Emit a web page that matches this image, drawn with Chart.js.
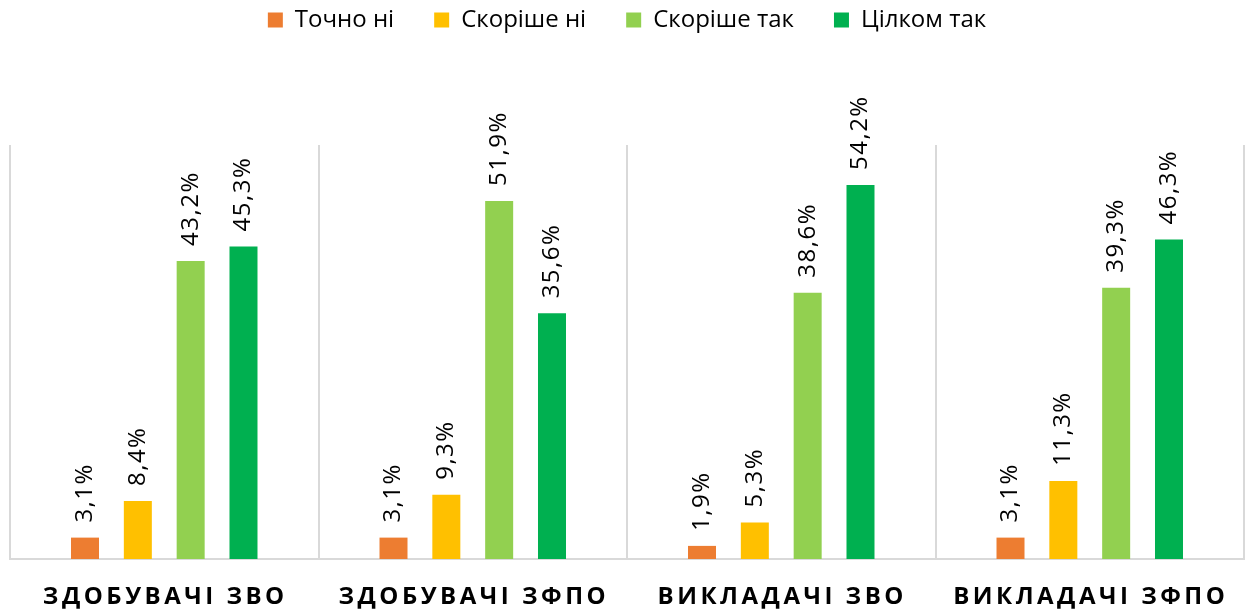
<!DOCTYPE html>
<html>
<head>
<meta charset="utf-8">
<script src="https://cdn.jsdelivr.net/npm/chart.js@4/dist/chart.umd.min.js"></script>
<style>
  html, body { margin: 0; padding: 0; background: #fff; }
  #wrap { width: 1246px; height: 611px; }
</style>
</head>
<body>
<div id="wrap"><canvas id="myChart" width="1246" height="611"></canvas></div>
<script>
const categories = ['ЗДОБУВАЧІ ЗВО', 'ЗДОБУВАЧІ ЗФПО', 'ВИКЛАДАЧІ ЗВО', 'ВИКЛАДАЧІ ЗФПО'];
const seriesNames = ['Точно ні', 'Скоріше ні', 'Скоріше так', 'Цілком так'];
const tochnoNi = [3.1, 3.1, 1.9, 3.1];
const skorisheNi = [8.4, 9.3, 5.3, 11.3];
const skorisheTak = [43.2, 51.9, 38.6, 39.3];
const tsilkomTak = [45.3, 35.6, 54.2, 46.3];
const colors = ['#ED7D31', '#FFC000', '#92D050', '#00B050'];

window.onload = function () {

const FONT = '"Open Sans", "Noto Sans", sans-serif';

// push plot area down below the legend
const legendGap = {
    id: 'legendGap',
    beforeInit(chart) {
        const fit = chart.legend.fit;
        chart.legend.fit = function () {
            fit.bind(chart.legend)();
            this.height += 103;
        };
    }
};

// value labels above bars, rotated
const barLabels = {
    id: 'barLabels',
    afterDatasetsDraw(chart) {
        const ctx = chart.ctx;
        ctx.save();
        ctx.font = '24px ' + FONT;
        ctx.letterSpacing = '1.5px';
        ctx.fillStyle = '#000';
        ctx.textAlign = 'left';
        ctx.textBaseline = 'middle';
        chart.data.datasets.forEach((ds, i) => {
            chart.getDatasetMeta(i).data.forEach((bar, j) => {
                const txt = ds.data[j].toFixed(1).replace('.', ',') + '%';
                ctx.save();
                ctx.translate(bar.x, bar.y - 15);
                ctx.rotate(-Math.PI / 2);
                ctx.fillText(txt, 0, 0);
                ctx.restore();
            });
        });
        ctx.restore();
    }
};

// category labels, bold and spaced out
const catLabels = {
    id: 'catLabels',
    afterDraw(chart) {
        const ctx = chart.ctx;
        const xs = chart.scales.x;
        ctx.save();
        ctx.font = 'bold 24px ' + FONT;
        ctx.letterSpacing = '3.5px';
        ctx.fillStyle = '#000';
        ctx.textAlign = 'center';
        ctx.textBaseline = 'middle';
        categories.forEach((c, i) => {
            ctx.fillText(c, xs.getPixelForValue(i) + 1, 597);
        });
        ctx.restore();
    }
};

new Chart(document.getElementById('myChart').getContext('2d'), {
    type: 'bar',
    data: {
        labels: categories,
        datasets: [
            { label: seriesNames[0], data: tochnoNi, backgroundColor: colors[0] },
            { label: seriesNames[1], data: skorisheNi, backgroundColor: colors[1] },
            { label: seriesNames[2], data: skorisheTak, backgroundColor: colors[2] },
            { label: seriesNames[3], data: tsilkomTak, backgroundColor: colors[3] }
        ]
    },
    options: {
        responsive: false,
        animation: false,
        categoryPercentage: 0.685,
        barPercentage: 0.53,
        layout: {
            padding: { left: 10, right: 2, top: -32, bottom: 52 }
        },
        plugins: {
            legend: {
                position: 'top',
                labels: {
                    boxWidth: 15,
                    boxHeight: 15,
                    padding: 40,
                    color: '#000',
                    font: { size: 24, family: FONT }
                }
            },
            tooltip: { enabled: false }
        },
        scales: {
            y: {
                display: false,
                min: 0,
                max: 60
            },
            x: {
                ticks: { display: false },
                grid: {
                    color: '#d9d9d9',
                    lineWidth: 2,
                    drawTicks: false
                },
                border: { color: '#d9d9d9', width: 2 }
            }
        }
    },
    plugins: [legendGap, barLabels, catLabels]
});

}
</script>
</body>
</html>
